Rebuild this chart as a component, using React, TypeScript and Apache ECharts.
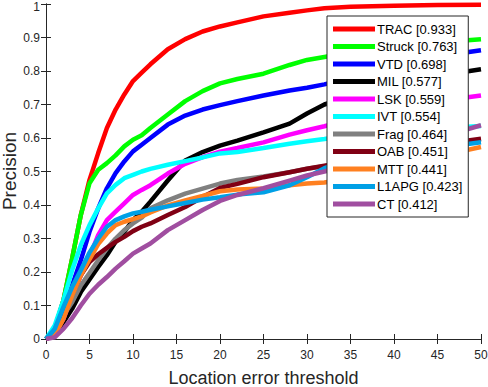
import React, { useEffect, useRef } from "react";
import * as echarts from "echarts";

const thresholds = [0, 1, 2, 3, 4, 5, 6, 7, 8, 9, 10, 11, 12, 14, 16, 18, 20, 22, 25, 28, 30, 32, 35, 40, 45, 50];

const trac = [0, 0.03, 0.115, 0.24, 0.37, 0.475, 0.555, 0.63, 0.685, 0.73, 0.77, 0.795, 0.82, 0.865, 0.895, 0.918, 0.933, 0.945, 0.963, 0.974, 0.981, 0.987, 0.992, 0.995, 0.997, 0.998];
const struck = [0, 0.03, 0.115, 0.24, 0.37, 0.465, 0.505, 0.525, 0.548, 0.575, 0.595, 0.608, 0.63, 0.67, 0.71, 0.74, 0.763, 0.776, 0.792, 0.818, 0.833, 0.842, 0.855, 0.872, 0.885, 0.895];
const vtd = [0, 0.02, 0.08, 0.16, 0.235, 0.32, 0.39, 0.45, 0.495, 0.53, 0.56, 0.58, 0.6, 0.64, 0.667, 0.685, 0.698, 0.71, 0.727, 0.742, 0.75, 0.76, 0.78, 0.815, 0.843, 0.862];
const mil = [0, 0.01, 0.05, 0.09, 0.14, 0.178, 0.215, 0.25, 0.29, 0.32, 0.355, 0.38, 0.41, 0.473, 0.533, 0.558, 0.577, 0.592, 0.617, 0.643, 0.673, 0.7, 0.725, 0.76, 0.785, 0.805];
const lsk = [0, 0.015, 0.06, 0.13, 0.19, 0.245, 0.31, 0.355, 0.38, 0.405, 0.43, 0.445, 0.459, 0.494, 0.523, 0.543, 0.559, 0.57, 0.587, 0.61, 0.623, 0.635, 0.655, 0.685, 0.71, 0.727];
const ivt = [0, 0.04, 0.115, 0.205, 0.28, 0.34, 0.39, 0.435, 0.46, 0.48, 0.49, 0.5, 0.508, 0.52, 0.531, 0.542, 0.554, 0.558, 0.57, 0.583, 0.59, 0.597, 0.608, 0.618, 0.628, 0.636];
const frag = [0, 0.02, 0.07, 0.11, 0.16, 0.197, 0.235, 0.27, 0.3, 0.325, 0.345, 0.362, 0.39, 0.414, 0.434, 0.449, 0.464, 0.475, 0.485, 0.498, 0.508, 0.516, 0.53, 0.555, 0.58, 0.595];
const oab = [0, 0.02, 0.08, 0.135, 0.19, 0.23, 0.253, 0.272, 0.29, 0.305, 0.322, 0.335, 0.345, 0.37, 0.394, 0.424, 0.451, 0.463, 0.483, 0.498, 0.508, 0.517, 0.53, 0.555, 0.58, 0.598];
const mtt = [0, 0.01, 0.06, 0.13, 0.19, 0.238, 0.283, 0.315, 0.34, 0.35, 0.358, 0.366, 0.378, 0.399, 0.414, 0.427, 0.441, 0.446, 0.449, 0.459, 0.464, 0.467, 0.48, 0.51, 0.545, 0.573];
const l1apg = [0, 0.03, 0.095, 0.155, 0.205, 0.258, 0.3, 0.335, 0.355, 0.366, 0.375, 0.38, 0.386, 0.396, 0.406, 0.416, 0.423, 0.431, 0.438, 0.459, 0.483, 0.51, 0.535, 0.555, 0.57, 0.587];
const ct = [0, 0.005, 0.03, 0.062, 0.1, 0.135, 0.162, 0.185, 0.21, 0.232, 0.255, 0.27, 0.285, 0.325, 0.355, 0.385, 0.412, 0.43, 0.45, 0.473, 0.488, 0.5, 0.52, 0.56, 0.6, 0.638];

const trackerNames = ["TRAC [0.933]", "Struck [0.763]", "VTD [0.698]", "MIL [0.577]", "LSK [0.559]", "IVT [0.554]", "Frag [0.464]", "OAB [0.451]", "MTT [0.441]", "L1APG [0.423]", "CT [0.412]"];
const trackerValues = [trac, struck, vtd, mil, lsk, ivt, frag, oab, mtt, l1apg, ct];
const trackerColors = ["#ff0000", "#00ff00", "#0000ff", "#000000", "#ff00ff", "#00ffff", "#808080", "#800014", "#ff8020", "#00a0e6", "#a04ea0"];

const FONT = 'Arial, "Liberation Sans", sans-serif';

export default function App() {
  const ref = useRef<HTMLDivElement>(null);
  useEffect(() => {
    document.body.style.margin = "0";
    const chart = echarts.init(ref.current!, null, { renderer: "svg" });
    const series = trackerNames.map((name, i) => ({
      name,
      type: "line",
      data: thresholds.map((t, j) => [t, trackerValues[i][j]]),
      showSymbol: false,
      symbol: "none",
      lineStyle: { width: 4.5, color: trackerColors[i], cap: "butt" },
      itemStyle: { color: trackerColors[i] },
      clip: true,
    }));
    const axisCommon = {
      axisLine: { show: true, lineStyle: { color: "#262626", width: 1 } },
      axisTick: { show: true, inside: true, length: 5, lineStyle: { color: "#262626" } },
      splitLine: { show: false },
    };
    chart.setOption({
      animation: false,
      backgroundColor: "#ffffff",
      grid: { left: 46, right: 7, top: 4, bottom: 48, containLabel: false, outerBoundsMode: "none" },
      legend: {
        orient: "vertical",
        left: 327,
        top: 16,
        padding: [6, 6, 6, 6],
        itemWidth: 42,
        itemHeight: 5,
        itemGap: 3.5,
        icon: "rect",
        borderColor: "#262626",
        borderWidth: 1,
        backgroundColor: "#ffffff",
        textStyle: { fontFamily: FONT, fontSize: 13, color: "#000", lineHeight: 14, padding: [0, 0, 0, -3] },
        data: trackerNames,
      },
      graphic: [
        {
          type: "text",
          x: 9,
          y: 171,
          rotation: Math.PI / 2,
          style: {
            text: "Precision",
            fontFamily: FONT,
            fontSize: 19,
            fill: "#262626",
            align: "center",
            verticalAlign: "middle",
          },
        },
      ],
      xAxis: [
        {
          type: "value",
          min: 0,
          max: 50,
          interval: 5,
          position: "bottom",
          ...axisCommon,
          axisLabel: { fontFamily: FONT, fontSize: 12, color: "#262626", margin: 10 },
          name: "Location error threshold",
          nameLocation: "middle",
          nameGap: 30,
          nameTextStyle: { fontFamily: FONT, fontSize: 18, color: "#262626" },
        },
        {
          type: "value",
          min: 0,
          max: 50,
          interval: 5,
          position: "top",
          ...axisCommon,
          axisLabel: { show: false },
        },
      ],
      yAxis: [
        {
          type: "value",
          min: 0,
          max: 1,
          interval: 0.1,
          position: "left",
          ...axisCommon,
          axisLabel: {
            fontFamily: FONT,
            fontSize: 12,
            color: "#262626",
            margin: 6,
            formatter: (v: number) => (v === 1 ? "{t|1}" : String(Math.round(v * 10) / 10)),
            rich: { t: { fontFamily: FONT, fontSize: 12, color: "#262626", padding: [6, 0, 0, 0] } },
          },
        },
        {
          type: "value",
          min: 0,
          max: 1,
          interval: 0.1,
          position: "right",
          ...axisCommon,
          axisLabel: { show: false },
        },
      ],
      series,
    });
    return () => chart.dispose();
  }, []);
  return <div ref={ref} style={{ width: 488, height: 387 }} />;
}
